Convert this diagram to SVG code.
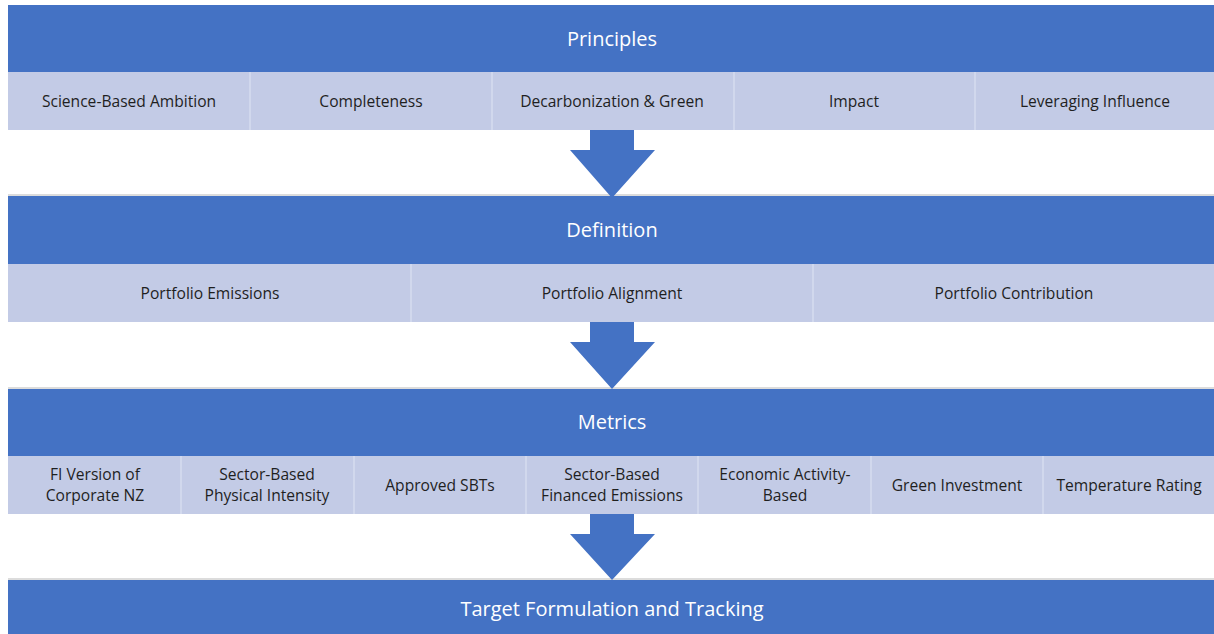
<svg xmlns="http://www.w3.org/2000/svg" width="1214" height="634" viewBox="0 0 1214 634">
<style>
.hdr{fill:#4472C4}
.cell{fill:#C3CBE6}
.div{stroke:#D6DCEF;stroke-width:1.5}
.ht{font-family:"Open Sans","Noto Sans",sans-serif;font-size:20px;fill:#FFFFFF;text-anchor:middle;dominant-baseline:central}
.ct{font-family:"Open Sans","Noto Sans",sans-serif;font-size:15.6px;fill:#1F1F1F;text-anchor:middle;dominant-baseline:central}
.arrow{fill:#4472C4}
.shadow{stroke:#D0D0D0;stroke-width:1.5}
</style>
<rect width="1214" height="634" fill="#FFFFFF"/>
<g id="principles">
<rect class="hdr" x="8" y="5" width="1206" height="67"/>
<text class="ht" x="612" y="38">Principles</text>
<rect class="cell" x="8" y="72" width="1206" height="58"/>
<line class="div" x1="250" y1="72" x2="250" y2="130"/>
<line class="div" x1="492" y1="72" x2="492" y2="130"/>
<line class="div" x1="734" y1="72" x2="734" y2="130"/>
<line class="div" x1="975" y1="72" x2="975" y2="130"/>
<text class="ct" x="129" y="101">Science-Based Ambition</text>
<text class="ct" x="371" y="101">Completeness</text>
<text class="ct" x="612" y="101">Decarbonization &amp; Green</text>
<text class="ct" x="854" y="101">Impact</text>
<text class="ct" x="1095" y="101">Leveraging Influence</text>
</g>
<g id="definition">
<line class="shadow" x1="8" y1="195" x2="1214" y2="195"/>
<rect class="hdr" x="8" y="196" width="1206" height="68"/>
<text class="ht" x="612" y="229">Definition</text>
<rect class="cell" x="8" y="264" width="1206" height="58"/>
<line class="div" x1="411" y1="264" x2="411" y2="322"/>
<line class="div" x1="813" y1="264" x2="813" y2="322"/>
<text class="ct" x="210" y="293">Portfolio Emissions</text>
<text class="ct" x="612" y="293">Portfolio Alignment</text>
<text class="ct" x="1014" y="293">Portfolio Contribution</text>
</g>
<g id="metrics">
<line class="shadow" x1="8" y1="388" x2="1214" y2="388"/>
<rect class="hdr" x="8" y="389" width="1206" height="67"/>
<text class="ht" x="612" y="421">Metrics</text>
<rect class="cell" x="8" y="456" width="1206" height="58"/>
<line class="div" x1="181" y1="456" x2="181" y2="514"/>
<line class="div" x1="354" y1="456" x2="354" y2="514"/>
<line class="div" x1="526" y1="456" x2="526" y2="514"/>
<line class="div" x1="698" y1="456" x2="698" y2="514"/>
<line class="div" x1="871" y1="456" x2="871" y2="514"/>
<line class="div" x1="1043" y1="456" x2="1043" y2="514"/>
<text class="ct" x="95" y="474">FI Version of</text>
<text class="ct" x="95" y="495">Corporate NZ</text>
<text class="ct" x="267" y="474">Sector-Based</text>
<text class="ct" x="267" y="495">Physical Intensity</text>
<text class="ct" x="440" y="485">Approved SBTs</text>
<text class="ct" x="612" y="474">Sector-Based</text>
<text class="ct" x="612" y="495">Financed Emissions</text>
<text class="ct" x="785" y="474">Economic Activity-</text>
<text class="ct" x="785" y="495">Based</text>
<text class="ct" x="957" y="485">Green Investment</text>
<text class="ct" x="1129" y="485">Temperature Rating</text>
</g>
<g id="target">
<line class="shadow" x1="8" y1="579" x2="1214" y2="579"/>
<rect class="hdr" x="8" y="580" width="1206" height="54"/>
<text class="ht" x="612" y="608">Target Formulation and Tracking</text>
</g>
<g id="connectors">
<polygon class="arrow" points="590,130 634,130 634,150 655,150 612,198 570,150 590,150"/>
<polygon class="arrow" points="590,322 634,322 634,342 655,342 612,389 570,342 590,342"/>
<polygon class="arrow" points="590,514 634,514 634,534 655,534 612,580 570,534 590,534"/>
</g>
</svg>
